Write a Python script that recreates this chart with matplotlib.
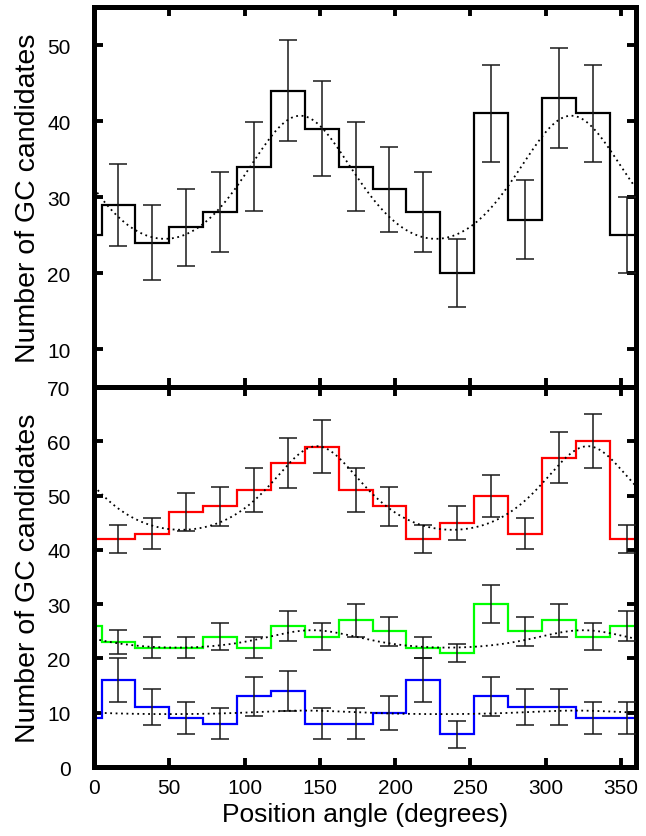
import numpy as np
import matplotlib.pyplot as plt

# histogram bins: 16 bins of 22.5 deg, first bin starts at 5 deg (last wraps past 360)
bin_start = 5.0
bin_width = 22.5

# top panel: all GC candidates
counts_all = [29, 24, 26, 28, 34, 44, 39, 34, 31, 28, 20, 41, 27, 43, 41, 25]

# bottom panel: three subsamples, red and green shifted up for display
counts_red = [42, 43, 47, 48, 51, 56, 59, 51, 48, 42, 45, 50, 43, 57, 60, 42]
counts_green = [23, 22, 22, 24, 22, 26, 24, 27, 25, 22, 21, 30, 25, 27, 24, 26]
counts_blue = [16, 11, 9, 8, 13, 14, 8, 8, 10, 16, 6, 13, 11, 11, 9, 9]
offset_red = 35
offset_green = 18
offset_blue = 0

# fitted model parameters (peak value, trough value, shape, peak angle)
fit_all = (40.7, 24.5, 0.65, 137.0)
fit_red = (59.1, 43.7, 1.35, 148.0)
fit_green = (25.2, 22.0, 1.0, 145.0)
fit_blue = (10.4, 9.75, 1.0, 140.0)


def model(theta, fmax, fmin, c, theta0):
    phi = np.radians(theta - theta0)
    g = 1.0 / (1.0 + c * np.sin(phi) ** 2)
    gmin = 1.0 / (1.0 + c)
    return fmin + (fmax - fmin) * (g - gmin) / (1.0 - gmin)


def draw_hist(ax, counts, color, offset=0):
    counts = np.array(counts, dtype=float)
    nb = len(counts)
    edges = bin_start + bin_width * np.arange(nb + 1)
    # wrap the last bin around to 0 deg
    vals = np.concatenate([[counts[-1]], counts])
    ed = np.concatenate([[0.0], edges[:-1], [360.0]])
    ax.stairs(vals, ed, baseline=None, color=color, lw=1.6, zorder=2)
    centers = edges[:-1] + bin_width / 2
    ax.errorbar(centers, counts, yerr=np.sqrt(counts - offset), fmt='none',
                ecolor='#1a1a1a', elinewidth=1.1, capsize=6.5,
                capthick=1.1, zorder=3)


def draw_fit(ax, params):
    th = np.linspace(0, 360, 721)
    ax.plot(th, model(th, *params), color='black', lw=1.3,
            linestyle=(0, (1, 2)), zorder=4)


plt.rcParams['font.family'] = ['Liberation Sans', 'DejaVu Sans']

fig = plt.figure(figsize=(6.46, 8.37), dpi=100)
ax1 = fig.add_axes([0.1455, 0.5364, 0.839, 0.454])
ax2 = fig.add_axes([0.1455, 0.0824, 0.839, 0.454])

draw_hist(ax1, counts_all, 'black')
draw_fit(ax1, fit_all)

draw_hist(ax2, counts_red, '#ff0000', offset_red)
draw_hist(ax2, counts_green, '#00ff00', offset_green)
draw_hist(ax2, counts_blue, '#0000ff', offset_blue)
draw_fit(ax2, fit_red)
draw_fit(ax2, fit_green)
draw_fit(ax2, fit_blue)

ax1.set_ylim(5, 55)
ax1.set_yticks([10, 20, 30, 40, 50])
ax2.set_ylim(0, 70)
ax2.set_yticks(np.arange(0, 71, 10))

for ax in (ax1, ax2):
    ax.set_xlim(0, 360)
    ax.set_xticks(np.arange(0, 351, 50))
    for s in ax.spines.values():
        s.set_linewidth(3.6)
    ax.tick_params(which='major', direction='in', top=True, right=True,
                   length=6.5, width=2.8, labelsize=15)
    ax.tick_params(axis='y', pad=17)
    ax.tick_params(axis='x', pad=8)
    ax.set_ylabel('Number of GC candidates', fontsize=20.5)
    ax.yaxis.set_label_coords(-0.098, 0.5)

ax1.tick_params(labelbottom=False)
ax2.set_xlabel('Position angle (degrees)', fontsize=19)
ax2.xaxis.set_label_coords(0.5, -0.092)

fig.savefig('out.png', dpi=100)
